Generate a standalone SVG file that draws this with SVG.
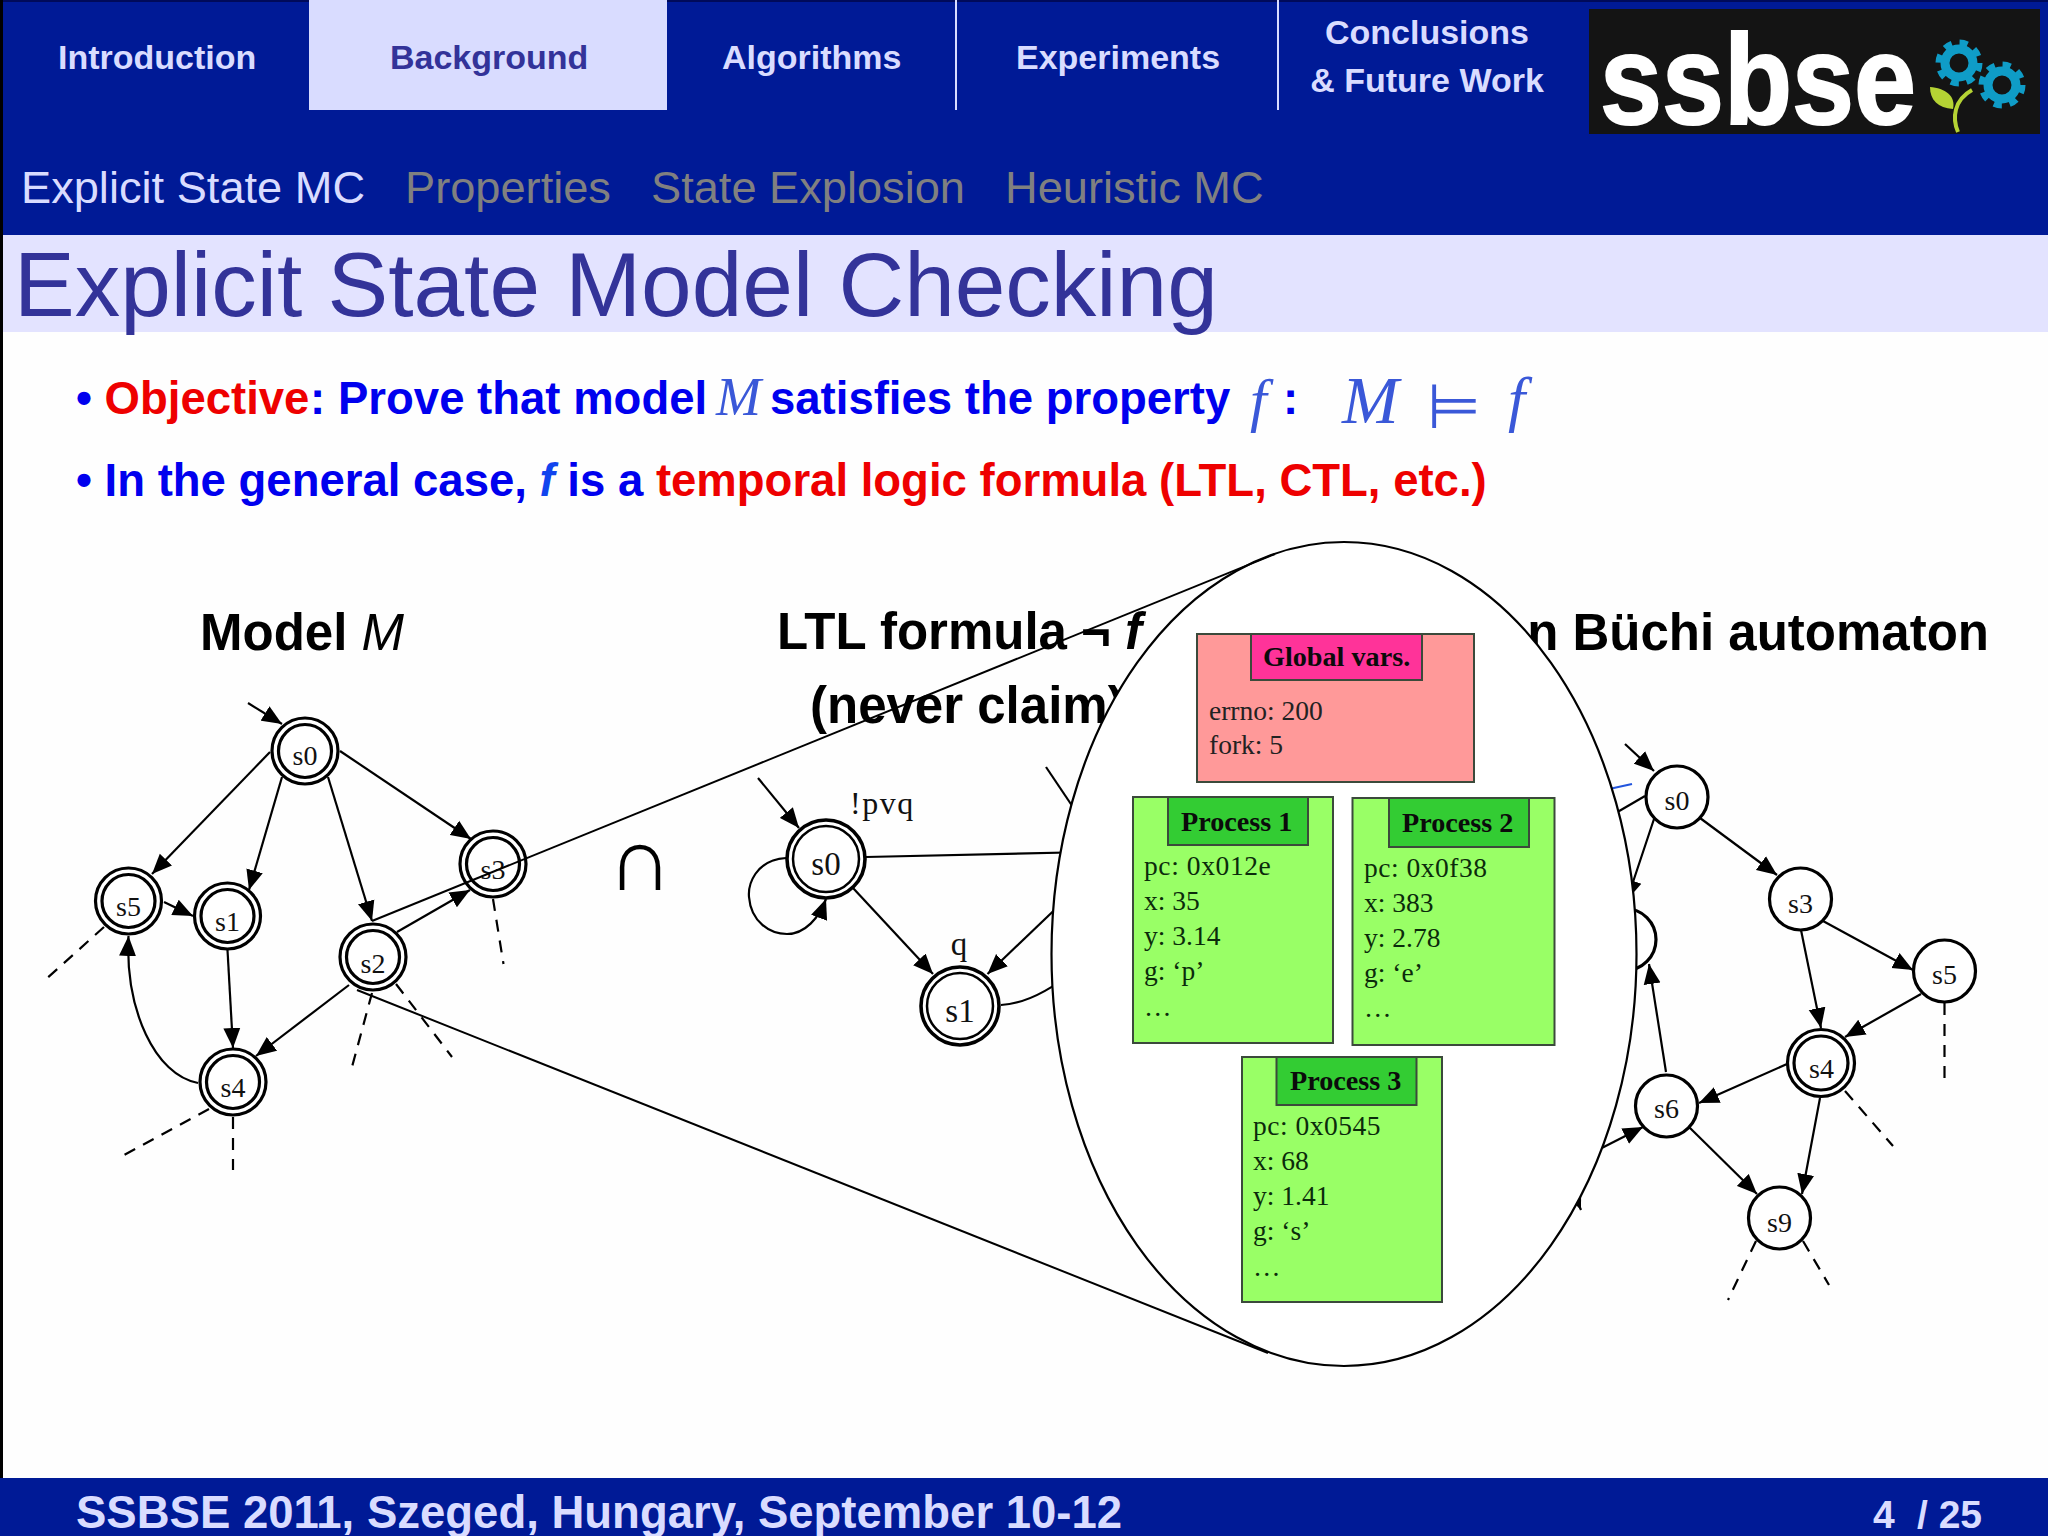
<svg xmlns="http://www.w3.org/2000/svg" width="2048" height="1536" viewBox="0 0 2048 1536">
<style>
.sans{font-family:"Liberation Sans",Arial,sans-serif}
.serif{font-family:"Liberation Serif","Times New Roman",serif}
.nav{font-size:34px;font-weight:700;fill:#d9dcff}
.sub{font-size:45.200px;fill:#808080}
.body{font-size:45.500px;font-weight:700;fill:#0000ee}
.red{fill:#ee0000}
.head{font-size:51px;font-weight:700;fill:#000}
.foot{font-size:45.500px;font-weight:700;fill:#d9dcff}
.e{fill:none;stroke:#000;stroke-width:2.2px}
.d{fill:none;stroke:#000;stroke-width:2.2px;stroke-dasharray:12 9}
.z{fill:none;stroke:#000;stroke-width:2px}
.a{marker-end:url(#arrow)}
.n{fill:#fff;stroke:#000;stroke-width:3.2px}
.lm{font-size:28px;text-anchor:middle;fill:#111}
.lt{font-size:33px;text-anchor:middle;fill:#111}
.box{stroke:#3b4a3b;stroke-width:2px}
.gb{fill:#99ff66}.gh{fill:#33cc33}
.bt{font-size:28.200px;font-weight:700;fill:#0b0b0b}
.vt{font-size:27.500px;fill:#0b2b0b}
.m{font-style:italic;font-weight:400}
</style>
<defs>
<marker id="arrow" markerUnits="userSpaceOnUse" markerWidth="21" markerHeight="18" refX="20" refY="9" orient="auto"><path d="M0,0.5 L20,9 L0,17.5 Z" fill="#000"/></marker>
</defs>
<rect width="2048" height="1536" fill="#fefefe"/>
<g id="header">
<rect width="2048" height="235" fill="#001a96"/>
<rect width="2048" height="2" fill="#000a5a"/>
<rect x="309" y="0" width="358" height="110" fill="#d9dcff"/>
<rect x="955" y="0" width="2" height="110" fill="#d9dcff"/>
<rect x="1277" y="0" width="2" height="110" fill="#d9dcff"/>
<text class="sans nav" x="58" y="69">Introduction</text>
<text class="sans nav" x="390" y="69" style="fill:#333399">Background</text>
<text class="sans nav" x="722" y="69">Algorithms</text>
<text class="sans nav" x="1016" y="69">Experiments</text>
<text class="sans nav" x="1427" y="44" text-anchor="middle">Conclusions</text>
<text class="sans nav" x="1427" y="92" text-anchor="middle">&amp; Future Work</text>
<text class="sans sub" x="21" y="203" style="fill:#d9dcff">Explicit State MC</text>
<text class="sans sub" x="405" y="203">Properties</text>
<text class="sans sub" x="651" y="203">State Explosion</text>
<text class="sans sub" x="1005" y="203">Heuristic MC</text>
</g>
<g id="logo">
<rect x="1589" y="9" width="451" height="125" fill="#141414"/>
<text class="sans" x="1600" y="124" font-size="128" font-weight="700" fill="#fff" stroke="#fff" stroke-width="2" textLength="316" lengthAdjust="spacingAndGlyphs">ssbse</text>
<g fill="none" stroke="#0f9cc7">
<circle cx="1959" cy="63" r="14" stroke-width="9"/>
<circle cx="1959" cy="63" r="20" stroke-width="7" stroke-dasharray="8 7.7"/>
<circle cx="2002" cy="85" r="14" stroke-width="9"/>
<circle cx="2002" cy="85" r="20" stroke-width="7" stroke-dasharray="8 7.7"/>
</g>
<path d="M1958,132 C1952,118 1954,100 1972,90" fill="none" stroke="#b5d334" stroke-width="4"/>
<path d="M1930,87 C1945,88 1956,96 1953,109 C1938,108 1930,100 1930,87 Z" fill="#b5d334"/>
</g>
<g id="title">
<rect x="0" y="235" width="2048" height="97" fill="#e3e3ff"/>
<text class="sans" x="14" y="316" font-size="91" fill="#333399">Explicit State Model Checking</text>
</g>
<rect x="0" y="0" width="3" height="1536" fill="#000"/>
<g id="bullets">
<text class="sans body" x="76" y="414">• <tspan class="red">Objective</tspan></text>
<text class="sans body" x="310" y="414">:</text>
<text class="sans body" x="338" y="414">Prove that model</text>
<text class="serif" x="716" y="415" font-size="54" font-style="italic" fill="#3a58d8">M</text>
<text class="sans body" x="770" y="414">satisfies the property</text>
<text class="serif" x="1250" y="420" font-size="60" font-style="italic" fill="#3a58d8">f</text>
<text class="sans body" x="1283" y="414">:</text>
<text class="serif" x="1342" y="423" font-size="68" font-style="italic" fill="#3a58d8">M</text>
<text x="1427" y="428" font-family="DejaVu Sans,sans-serif" font-size="62" fill="#3a58d8">⊨</text>
<text class="serif" x="1508" y="420" font-size="62" font-style="italic" fill="#3a58d8">f</text>
<text class="sans body" x="76" y="496">• In the general case, <tspan font-style="italic" fill="#1144ee">f</tspan> is a <tspan class="red">temporal logic formula (LTL, CTL, etc.)</tspan></text>
</g>
<g id="headings">
<text class="sans head" x="200" y="650">Model <tspan class="m">M</tspan></text>
<text class="sans head" x="777" y="649">LTL formula ¬ <tspan font-style="italic">f</tspan></text>
<text class="sans head" x="810" y="723">(never claim)</text>
<text class="sans head" x="1989" y="650" text-anchor="end">n Büchi automaton</text>
</g>
<text id="intersection" x="640" y="890" text-anchor="middle" font-family="Liberation Sans,sans-serif" font-size="90" fill="#000">∩</text>
<g id="connectors">
<!-- model M -->
<line class="e a" x1="248" y1="703" x2="282" y2="724"/>
<line class="e a" x1="270" y1="752" x2="152" y2="874"/>
<line class="e a" x1="282" y1="777" x2="249" y2="890"/>
<line class="e a" x1="328" y1="777" x2="372" y2="921"/>
<line class="e a" x1="340" y1="751" x2="471" y2="839"/>
<line class="e a" x1="164" y1="902" x2="193" y2="916"/>
<line class="e a" x1="397" y1="932" x2="470" y2="890"/>
<line class="e a" x1="227.5" y1="950" x2="233" y2="1048"/>
<line class="e a" x1="349" y1="985" x2="256" y2="1056"/>
<path class="e a" d="M198,1083 C155,1075 125,1010 128.500,936"/>
<line class="d" x1="104" y1="927" x2="44" y2="981"/>
<line class="d" x1="493" y1="899" x2="503.500" y2="964"/>
<line class="d" x1="372" y1="993" x2="352" y2="1067"/>
<line class="d" x1="396" y1="984" x2="452" y2="1057"/>
<line class="d" x1="209" y1="1109" x2="124" y2="1155"/>
<line class="d" x1="233" y1="1117" x2="233" y2="1170"/>
<!-- never claim -->
<line class="e a" x1="758" y1="778" x2="799" y2="828"/>
<line class="e" x1="866" y1="857" x2="1090" y2="852"/>
<line class="e a" x1="853" y1="888" x2="933" y2="974"/>
<line class="e a" x1="1090" y1="876" x2="987.500" y2="974"/>
<path class="e" d="M1001,1005 Q1035,1003 1075,970"/>
<line class="e" x1="1046" y1="767" x2="1085" y2="825"/>
<path class="e a" d="M786,858 C755,860 748,885 749,897 C751,922 770,934 787,934 C805,934 819,918 826,899"/>
<!-- buchi -->
<line class="e a" x1="1625" y1="744" x2="1654" y2="771"/>
<line x1="1600" y1="791" x2="1632" y2="784" stroke="#2255dd" stroke-width="2.200"/>
<line class="e" x1="1645" y1="796" x2="1590" y2="828"/>
<line class="e a" x1="1654" y1="819" x2="1627" y2="900"/>
<line class="e a" x1="1700" y1="818" x2="1777" y2="875"/>
<line class="e a" x1="1823" y1="921" x2="1913" y2="970"/>
<line class="e a" x1="1801" y1="930" x2="1821" y2="1028"/>
<line class="e a" x1="1921" y1="994" x2="1845" y2="1037"/>
<line class="e a" x1="1787" y1="1064" x2="1699" y2="1103"/>
<line class="e a" x1="1666" y1="1072" x2="1649" y2="964"/>
<line class="e a" x1="1820" y1="1098" x2="1802" y2="1194"/>
<line class="e a" x1="1689" y1="1127" x2="1757" y2="1194"/>
<line class="e a" x1="1590" y1="1154" x2="1643" y2="1127"/>
<line class="e a" x1="1560" y1="1160" x2="1581" y2="1210"/>
<line class="d" x1="1944.500" y1="1003" x2="1944.500" y2="1084"/>
<line class="d" x1="1845" y1="1091" x2="1893" y2="1146"/>
<line class="d" x1="1756" y1="1241" x2="1728" y2="1300"/>
<line class="d" x1="1803" y1="1241" x2="1829" y2="1285"/>
</g>
<g id="m-s0"><circle class="n" cx="305" cy="751" r="33"/><circle class="n" cx="305" cy="751" r="26.500"/><text class="serif lm" x="305" y="765">s0</text></g>
<g id="m-s1"><circle class="n" cx="227.500" cy="916" r="33"/><circle class="n" cx="227.500" cy="916" r="26.500"/><text class="serif lm" x="227.500" y="931">s1</text></g>
<g id="m-s2"><circle class="n" cx="373" cy="957" r="33"/><circle class="n" cx="373" cy="957" r="26.500"/><text class="serif lm" x="373" y="973">s2</text></g>
<g id="m-s3"><circle class="n" cx="493" cy="864" r="33"/><circle class="n" cx="493" cy="864" r="26.500"/><text class="serif lm" x="493" y="879">s3</text></g>
<g id="m-s4"><circle class="n" cx="233" cy="1082" r="33"/><circle class="n" cx="233" cy="1082" r="26.500"/><text class="serif lm" x="233" y="1097">s4</text></g>
<g id="m-s5"><circle class="n" cx="128.500" cy="901" r="33"/><circle class="n" cx="128.500" cy="901" r="26.500"/><text class="serif lm" x="128.500" y="916">s5</text></g>
<g id="l-s0"><circle class="n" cx="826" cy="859" r="39" style="stroke-width:3.600px"/><circle class="n" cx="826" cy="859" r="33" style="stroke-width:2.500px"/><text class="serif lt" x="826" y="875">s0</text></g>
<g id="l-s1"><circle class="n" cx="960" cy="1006" r="39" style="stroke-width:3.600px"/><circle class="n" cx="960" cy="1006" r="33" style="stroke-width:2.500px"/><text class="serif lt" x="960" y="1022">s1</text></g>
<text class="serif" x="850" y="814" font-size="32" letter-spacing="1.500" fill="#111">!pvq</text>
<text class="serif lt" x="959" y="955">q</text>
<g id="b-s0"><circle class="n" cx="1677" cy="797" r="31"/><text class="serif lm" x="1677" y="810">s0</text></g>
<g id="b-s3"><circle class="n" cx="1800.500" cy="899" r="31"/><text class="serif lm" x="1800.500" y="913">s3</text></g>
<g id="b-s5"><circle class="n" cx="1944.500" cy="971" r="31"/><text class="serif lm" x="1944.500" y="984">s5</text></g>
<g id="b-s4"><circle class="n" cx="1821" cy="1063" r="33.500"/><circle class="n" cx="1821" cy="1063" r="27"/><text class="serif lm" x="1821.500" y="1078">s4</text></g>
<g id="b-s6"><circle class="n" cx="1666.500" cy="1106" r="31"/><text class="serif lm" x="1666.500" y="1118">s6</text></g>
<g id="b-s9"><circle class="n" cx="1779.500" cy="1218" r="31"/><text class="serif lm" x="1779.500" y="1232">s9</text></g>
<circle class="n" cx="1625" cy="939.500" r="31"/>
<g id="state-bubble"><ellipse cx="1344" cy="954" rx="292.500" ry="412" fill="#fff" stroke="#000" stroke-width="2.200"/></g>
<g id="zoom-lines">
<line class="z" x1="372" y1="921" x2="1275" y2="554"/>
<line class="z" x1="357" y1="990" x2="1268" y2="1353"/>
</g>
<g id="global-vars">
<rect class="box" x="1197" y="634" width="277" height="148" fill="#ff9999"/>
<rect class="box" x="1251" y="634" width="171" height="46" fill="#ff3399"/>
<text class="serif bt" x="1263" y="666">Global vars.</text>
<text class="serif vt" x="1209" y="720" style="fill:#222">errno: 200</text>
<text class="serif vt" x="1209" y="754" style="fill:#222">fork: 5</text>
</g>
<g id="process-1">
<rect class="box gb" x="1133" y="797" width="200" height="246"/>
<rect class="box gh" x="1168" y="797" width="140" height="48"/>
<text class="serif bt" x="1181" y="831">Process 1</text>
<text class="serif vt" x="1144" y="875" letter-spacing=".6">pc: 0x012e</text>
<text class="serif vt" x="1144" y="910">x: 35</text>
<text class="serif vt" x="1144" y="945">y: 3.14</text>
<text class="serif vt" x="1144" y="980">g: ‘p’</text>
<text class="serif vt" x="1144" y="1016">…</text>
</g>
<g id="process-2">
<rect class="box gb" x="1352.500" y="798" width="202" height="247"/>
<rect class="box gh" x="1389" y="798" width="140" height="49"/>
<text class="serif bt" x="1402" y="832">Process 2</text>
<text class="serif vt" x="1364" y="877" letter-spacing=".5">pc: 0x0f38</text>
<text class="serif vt" x="1364" y="912">x: 383</text>
<text class="serif vt" x="1364" y="947">y: 2.78</text>
<text class="serif vt" x="1364" y="982">g: ‘e’</text>
<text class="serif vt" x="1364" y="1017">…</text>
</g>
<g id="process-3">
<rect class="box gb" x="1242" y="1057" width="200" height="245"/>
<rect class="box gh" x="1276.500" y="1057" width="140" height="48"/>
<text class="serif bt" x="1290" y="1090">Process 3</text>
<text class="serif vt" x="1253" y="1135" letter-spacing=".5">pc: 0x0545</text>
<text class="serif vt" x="1253" y="1170">x: 68</text>
<text class="serif vt" x="1253" y="1205">y: 1.41</text>
<text class="serif vt" x="1253" y="1240">g: ‘s’</text>
<text class="serif vt" x="1253" y="1276">…</text>
</g>
<g id="footer">
<rect x="0" y="1478" width="2048" height="58" fill="#001a96"/>
<text class="sans foot" x="76" y="1528">SSBSE 2011, Szeged, Hungary, September 10-12</text>
<text class="sans foot" x="1873" y="1528" style="font-size:39px">4</text>
<text class="sans foot" x="1917" y="1528" style="font-size:39px">/ 25</text>
</g>
</svg>
